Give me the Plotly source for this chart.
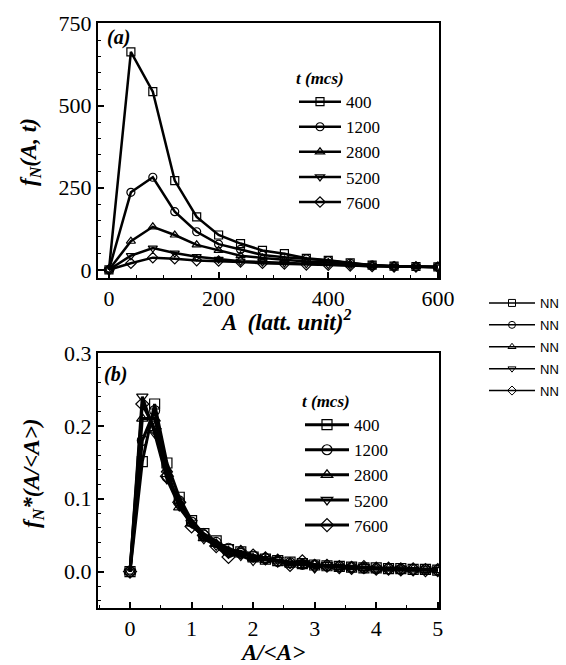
import plotly.graph_objects as go

# ---------------- data ----------------
t_labels = ["400", "1200", "2800", "5200", "7600"]
symbols = ["square-open", "circle-open", "triangle-up-open", "triangle-down-open", "diamond-open"]

x_a = [0, 40, 80, 120, 160, 200, 240, 280, 320, 360, 400, 440, 480, 520, 560, 600]
a_400 = [0, 664, 543, 272, 161, 106, 80, 59, 49, 35, 29, 21, 14, 11, 10, 9]
a_1200 = [0, 236, 282, 177, 116, 78, 62, 45, 38, 33, 28, 20, 14, 11, 10, 9]
a_2800 = [0, 87, 131, 106, 76, 59, 43, 36, 30, 25, 22, 18, 13, 11, 10, 8]
a_5200 = [0, 43, 66, 51, 40, 32, 26, 24, 21, 18, 16, 13, 11, 10, 9, 8]
a_7600 = [0, 20, 37, 34, 28, 27, 24, 20, 18, 15, 14, 12, 10, 9, 9, 8]

x_b = [0, 0.2, 0.4, 0.6, 0.8, 1.0, 1.2, 1.4, 1.6, 1.8, 2.0, 2.2, 2.4, 2.6, 2.8,
       3.0, 3.2, 3.4, 3.6, 3.8, 4.0, 4.2, 4.4, 4.6, 4.8, 5.0]
b_400 = [0, 0.151, 0.230, 0.149, 0.102, 0.070, 0.052, 0.042, 0.030, 0.027, 0.020, 0.017, 0.015,
         0.013, 0.011, 0.009, 0.008, 0.007, 0.006, 0.005, 0.005, 0.004, 0.004, 0.003, 0.003, 0.002]
b_1200 = [0, 0.180, 0.221, 0.130, 0.097, 0.068, 0.050, 0.040, 0.032, 0.025, 0.021, 0.018, 0.014,
          0.012, 0.010, 0.009, 0.008, 0.007, 0.006, 0.005, 0.004, 0.004, 0.003, 0.003, 0.003, 0.002]
b_2800 = [0, 0.210, 0.210, 0.140, 0.088, 0.066, 0.046, 0.038, 0.028, 0.028, 0.018, 0.016, 0.015,
          0.012, 0.009, 0.009, 0.007, 0.006, 0.006, 0.005, 0.004, 0.004, 0.003, 0.003, 0.002, 0.002]
b_5200 = [0, 0.240, 0.190, 0.127, 0.090, 0.067, 0.045, 0.036, 0.025, 0.022, 0.015, 0.017, 0.016,
          0.011, 0.012, 0.005, 0.009, 0.006, 0.005, 0.006, 0.004, 0.003, 0.004, 0.002, 0.003, 0.002]
b_7600 = [0, 0.230, 0.196, 0.131, 0.095, 0.062, 0.050, 0.035, 0.020, 0.027, 0.022, 0.018, 0.015,
          0.009, 0.014, 0.008, 0.008, 0.006, 0.005, 0.006, 0.004, 0.004, 0.003, 0.003, 0.002, 0.002]

series_a = [a_400, a_1200, a_2800, a_5200, a_7600]
series_b = [b_400, b_1200, b_2800, b_5200, b_7600]
outer_names = ["NN", "NN", "NN", "NN", "NN"]

SERIF = "Liberation Serif"
SANS = "Liberation Sans"
W, H = 566, 665

fig = go.Figure()

for name, sym, ys in zip(t_labels, symbols, series_a):
    fig.add_trace(go.Scatter(
        x=x_a, y=ys, name=name, mode="lines+markers",
        line=dict(color="black", width=2.5),
        marker=dict(symbol=sym, size=8, color="black", line=dict(width=1.2)),
        xaxis="x", yaxis="y", legend="legend"))

for name, sym, ys in zip(t_labels, symbols, series_b):
    fig.add_trace(go.Scatter(
        x=x_b, y=ys, name=name, mode="lines+markers",
        line=dict(color="black", width=3),
        marker=dict(symbol=sym, size=10, color="black", line=dict(width=1.2)),
        xaxis="x2", yaxis="y2", legend="legend2"))

for i, (name, sym) in enumerate(zip(outer_names, symbols)):
    fig.add_trace(go.Scatter(
        x=[None], y=[None], name=name, mode="lines+markers",
        line=dict(color="black", width=1.5), legendgroup="nn%d" % i,
        marker=dict(symbol=sym, size=7, color="black", line=dict(width=1)),
        xaxis="x", yaxis="y", legend="legend3"))

def px_x(p):
    return p / W

def px_y(p):
    return (H - p) / H

def axis_style(fam):
    return dict(showline=True, linecolor="black", linewidth=2, mirror=True,
                ticks="inside", ticklen=6, tickwidth=1.5, tickcolor="black",
                showgrid=False, zeroline=False, automargin=False,
                tickfont=dict(family=fam, size=22, color="black"),
                minor=dict(ticks="inside", ticklen=3, tickwidth=1.2, tickcolor="black"))

fig.update_layout(
    width=W, height=H,
    margin=dict(l=0, r=0, t=0, b=0, autoexpand=False),
    paper_bgcolor="white", plot_bgcolor="white",
    showlegend=True,
    xaxis=dict(domain=[px_x(98), px_x(439)], range=[-20, 602], tickvals=[0, 200, 400, 600],
               anchor="y", **axis_style(SERIF)),
    yaxis=dict(domain=[px_y(278), px_y(23)], range=[-25, 752], tickvals=[0, 250, 500, 750],
               anchor="x", **axis_style(SERIF)),
    xaxis2=dict(domain=[px_x(98), px_x(439)], range=[-0.52, 5.02], tickvals=[0, 1, 2, 3, 4, 5],
                anchor="y2", **axis_style(SERIF)),
    yaxis2=dict(domain=[px_y(608), px_y(353)], range=[-0.05, 0.3],
                tickvals=[0.0, 0.1, 0.2, 0.3], ticktext=["0.0", "0.1", "0.2", "0.3"],
                anchor="x2", **axis_style(SERIF)),
    legend=dict(x=px_x(294), y=px_y(62), xanchor="left", yanchor="top",
                bgcolor="rgba(0,0,0,0)", itemwidth=42, tracegroupgap=0,
                font=dict(family=SERIF, size=17, color="black"),
                title=dict(text="<b><i>t (mcs)</i></b>", font=dict(family=SERIF, size=17))),
    legend2=dict(x=px_x(300), y=px_y(385), xanchor="left", yanchor="top",
                 bgcolor="rgba(0,0,0,0)", itemwidth=44, tracegroupgap=0,
                 font=dict(family=SERIF, size=17, color="black"),
                 title=dict(text="<b><i>t (mcs)</i></b>", font=dict(family=SERIF, size=17))),
    legend3=dict(x=px_x(484), y=px_y(288), xanchor="left", yanchor="top",
                 bgcolor="rgba(0,0,0,0)", itemwidth=46, tracegroupgap=2,
                 font=dict(family=SANS, size=13, color="black")),
)

ann_font = dict(family=SERIF, size=23, color="black")

def ann(text, x, y, font, angle=0):
    fig.add_annotation(text=text, x=px_x(x), y=px_y(y), xref="paper", yref="paper",
                       xanchor="center", yanchor="middle", showarrow=False,
                       textangle=angle, font=font)

ann("<b><i>(a)</i></b>", 118, 37, dict(family=SERIF, size=20, color="black"))
ann("<b><i>(b)</i></b>", 115, 374, dict(family=SERIF, size=20, color="black"))
ann("<b><i>f<sub>N</sub>(A, t)</i></b>", 30, 152, ann_font, -90)
ann("<b><i>A  (latt. unit)<sup>2</sup></i></b>", 285, 320, ann_font)
ann("<b><i>f<sub>N</sub>*(A/&lt;A&gt;)</i></b>", 33, 474, ann_font, -90)
ann("<b><i>A/&lt;A&gt;</i></b>", 272, 652, ann_font)

fig.write_html("out.html", config={"displayModeBar": False},
               post_script="document.body.style.margin='0';"
                           "document.documentElement.style.overflow='hidden';")
